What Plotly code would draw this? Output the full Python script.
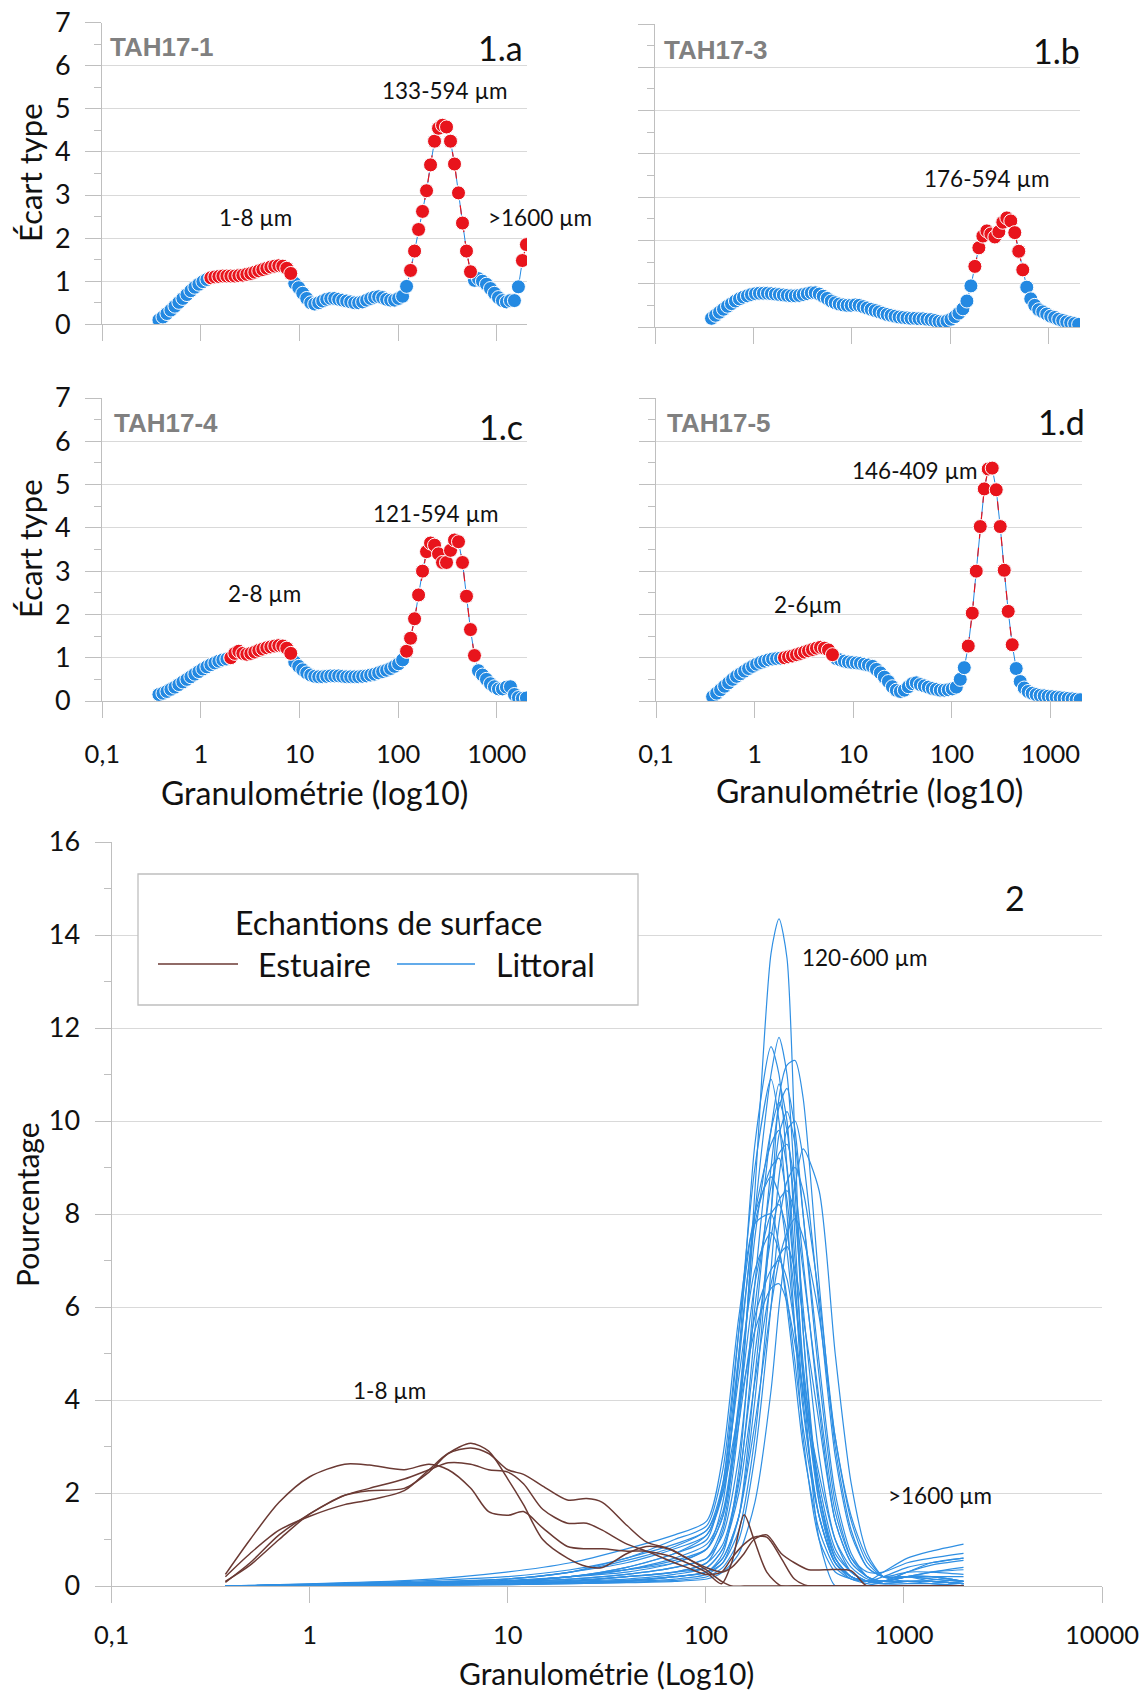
import plotly.graph_objects as go

W, H = 1144, 1693

# channel sizes of the laser granulometer (µm)
sizes = [0.375, 0.412, 0.452, 0.496, 0.545, 0.598, 0.656, 0.721, 0.791, 0.868,
         0.953, 1.047, 1.149, 1.261, 1.385, 1.520, 1.669, 1.832, 2.010, 2.207,
         2.423, 2.660, 2.920, 3.205, 3.519, 3.863, 4.240, 4.655, 5.110, 5.610,
         6.158, 6.760, 7.421, 8.147, 8.943, 9.817, 10.78, 11.83, 12.99, 14.26,
         15.65, 17.18, 18.86, 20.71, 22.73, 24.95, 27.39, 30.07, 33.01, 36.24,
         39.78, 43.67, 47.94, 52.62, 57.77, 63.41, 69.61, 76.42, 83.89, 92.09,
         101.1, 111.0, 121.8, 133.7, 146.8, 161.2, 176.8, 194.2, 213.2, 234.0,
         256.8, 282.0, 309.6, 339.8, 373.1, 409.6, 449.6, 493.6, 541.9, 594.8,
         653.0, 716.8, 786.9, 863.9, 948.3, 1041, 1143, 1255, 1377, 1512,
         1660, 1822, 2000]

# standard deviation per channel
tah17_1 = [0.1, 0.17, 0.25, 0.33, 0.42, 0.51, 0.6, 0.69, 0.78, 0.86, 0.93, 0.99, 1.04,
           1.08, 1.1, 1.11, 1.12, 1.12, 1.12, 1.12, 1.13, 1.14, 1.16, 1.18, 1.21, 1.24,
           1.27, 1.3, 1.33, 1.35, 1.36, 1.35, 1.3, 1.18,
           0.95, 0.85, 0.72, 0.6, 0.5, 0.47, 0.5, 0.54, 0.58, 0.6, 0.6, 0.58, 0.56, 0.54,
           0.52, 0.5, 0.5, 0.52, 0.56, 0.6, 0.63, 0.64, 0.62, 0.58, 0.56, 0.56, 0.6, 0.65, 0.88,
           1.25, 1.7, 2.2, 2.62, 3.1, 3.7, 4.25, 4.55, 4.62, 4.58, 4.25, 3.72, 3.05, 2.35, 1.7, 1.22,
           1.02, 1.06, 1.0, 0.93, 0.83, 0.72, 0.62, 0.55, 0.52, 0.55, 0.55, 0.87, 1.48, 1.85]
tah17_3 = [0.2, 0.27, 0.34, 0.41, 0.48, 0.54, 0.6, 0.65, 0.69, 0.72,
           0.75, 0.77, 0.78, 0.78, 0.78, 0.77, 0.76, 0.75, 0.74, 0.73,
           0.72, 0.72, 0.73, 0.75, 0.77, 0.79, 0.79, 0.76, 0.71, 0.66,
           0.6, 0.56, 0.53, 0.51, 0.5, 0.5, 0.51, 0.5, 0.47, 0.44,
           0.41, 0.38, 0.35, 0.32, 0.29, 0.27, 0.25, 0.23, 0.22, 0.21,
           0.2, 0.2, 0.19, 0.19, 0.18, 0.17, 0.15, 0.13, 0.12, 0.14,
           0.18, 0.24, 0.32, 0.42, 0.6, 0.95,
           1.4, 1.83, 2.1, 2.22, 2.15, 2.08, 2.2, 2.42, 2.52, 2.45, 2.18, 1.75, 1.32,
           0.92, 0.65, 0.5, 0.4, 0.35, 0.3, 0.25, 0.22, 0.18, 0.15, 0.12, 0.1, 0.08, 0.06]
tah17_4 = [0.15, 0.18, 0.22, 0.27, 0.32, 0.38, 0.44, 0.5, 0.56, 0.62, 0.68, 0.74, 0.79, 0.84,
           0.88, 0.92, 0.95, 0.97,
           1.0, 1.1, 1.15, 1.1, 1.08, 1.1, 1.13, 1.17, 1.2, 1.23, 1.25, 1.27, 1.28, 1.27, 1.22, 1.1,
           0.9, 0.8, 0.72, 0.65, 0.6, 0.57, 0.56, 0.56, 0.57, 0.58, 0.58, 0.58, 0.57, 0.56,
           0.56, 0.56, 0.56, 0.57, 0.58, 0.6, 0.62, 0.65, 0.68, 0.71, 0.75, 0.8, 0.86, 0.95,
           1.15, 1.45, 1.9, 2.45, 3.0, 3.45, 3.65, 3.6, 3.4, 3.2, 3.2, 3.48, 3.72, 3.68, 3.2,
           2.42, 1.65, 1.05,
           0.7, 0.6, 0.5, 0.4, 0.33, 0.28, 0.28, 0.32, 0.33, 0.15, 0.08, 0.06, 0.07]
tah17_5 = [0.1, 0.18, 0.26, 0.34, 0.42, 0.5, 0.57, 0.63, 0.69, 0.75, 0.8, 0.85, 0.89, 0.92,
           0.95, 0.97, 0.98, 0.99,
           1.0, 1.02, 1.04, 1.07, 1.1, 1.13, 1.16, 1.19, 1.22, 1.24, 1.22, 1.18, 1.07,
           0.98, 0.95, 0.92, 0.9, 0.89, 0.88, 0.87, 0.85, 0.83, 0.8, 0.73, 0.65, 0.55, 0.45,
           0.33, 0.25, 0.22, 0.25, 0.33, 0.4, 0.42, 0.38, 0.35, 0.32, 0.29, 0.27, 0.25, 0.25,
           0.26, 0.28, 0.32, 0.5, 0.77,
           1.27, 2.03, 3.0, 4.03, 4.9, 5.36, 5.38, 4.88, 4.03, 3.02, 2.07, 1.3,
           0.75, 0.45, 0.3, 0.22, 0.18, 0.15, 0.13, 0.12, 0.11, 0.1, 0.09, 0.08, 0.07, 0.06,
           0.05, 0.04, 0.03]

# channel index ranges drawn in red
red_1 = [(13, 33), (63, 78), (91, 92)]
red_3 = [(66, 78)]
red_4 = [(18, 33), (62, 79)]
red_5 = [(18, 30), (64, 75)]

# surface samples (percentage)
est_x = [0.375, 0.5, 0.7, 1, 1.5, 2, 3, 4, 5, 6.5, 8, 10, 12, 15, 20, 25, 30, 40, 50, 65,
         80, 100, 120, 135, 156, 175, 203, 240, 280, 330, 400, 540, 650, 1000, 1999]
estuaire = [
    [0.25, 1.0, 1.8, 2.35, 2.62, 2.6, 2.5, 2.62, 2.5, 2.1, 1.6, 1.52, 1.6, 1.25, 0.85, 0.8, 0.8,
     0.75, 0.75, 0.65, 0.5, 0.3, 0.05, 0.5, 1.53, 1.0, 0.3, 0, 0, 0, 0, 0, 0, 0, 0],
    [0.1, 0.45, 1.0, 1.55, 1.95, 2.05, 2.1, 2.45, 2.85, 3.07, 2.9, 2.3, 1.75, 1.0, 0.6, 0.42, 0.4,
     0.7, 0.85, 0.8, 0.6, 0.4, 0.3, 0.4, 0.7, 1.0, 1.1, 0.7, 0.5, 0.35, 0.35, 0.33, 0, 0, 0],
    [0.2, 0.7, 1.2, 1.5, 1.75, 1.85, 2.05, 2.5, 2.85, 2.97, 2.85, 2.5, 2.4, 2.15, 1.85, 1.88, 1.8,
     1.3, 0.95, 0.8, 0.6, 0.35, 0.1, 0, 0, 0, 0, 0, 0, 0, 0, 0, 0, 0, 0],
    [0.08, 0.5, 1.1, 1.55, 1.95, 2.1, 2.3, 2.5, 2.65, 2.62, 2.5, 2.45, 2.2, 1.65, 1.35, 1.35, 1.2,
     0.9, 0.75, 0.55, 0.4, 0.25, 0.3, 0.6, 0.9, 1.05, 1.05, 0.6, 0.15, 0, 0, 0, 0, 0, 0],
]
lit_x = [0.375, 1.047, 3.205, 9.817, 20.71, 39.78, 69.61, 101.1, 121.8, 146.8, 176.8, 213.2,
         234.0, 256.8, 282.0, 309.6, 373.1, 449.6, 541.9, 653.0, 786.9, 1041, 1377, 1999]
littoral = [
    [0, 0.02, 0.04, 0.08, 0.12, 0.2, 0.3, 0.5, 1.2, 3.5, 8.5, 13.6, 14.35, 13.5, 9.5, 5.5, 1.8, 0.5, 0.15, 0.05, 0, 0, 0, 0],
    [0, 0.02, 0.05, 0.1, 0.15, 0.25, 0.4, 0.6, 1.3, 3.8, 8.0, 11.0, 11.8, 11.0, 8.5, 5.5, 2.0, 0.6, 0.2, 0.1, 0.05, 0.1, 0.1, 0.05],
    [0, 0.03, 0.06, 0.12, 0.2, 0.35, 0.5, 0.8, 1.8, 5.0, 9.5, 11.6, 11.0, 9.0, 6.5, 4.0, 1.5, 0.5, 0.2, 0.1, 0.1, 0.2, 0.15, 0.1],
    [0, 0.01, 0.03, 0.05, 0.08, 0.12, 0.2, 0.3, 0.6, 1.5, 4.0, 8.0, 10.5, 11.2, 11.3, 10.5, 6.5, 3.0, 1.2, 0.4, 0.2, 0.2, 0.15, 0.1],
    [0, 0.02, 0.05, 0.1, 0.2, 0.4, 0.7, 1.0, 2.2, 5.5, 9.0, 10.9, 10.0, 8.0, 5.5, 3.2, 1.0, 0.3, 0.15, 0.1, 0.2, 0.4, 0.5, 0.6],
    [0, 0.01, 0.03, 0.06, 0.1, 0.2, 0.3, 0.4, 0.8, 2.2, 5.5, 9.0, 10.3, 10.7, 9.8, 8.0, 4.5, 1.8, 0.6, 0.2, 0.1, 0.1, 0.1, 0.05],
    [0, 0.02, 0.05, 0.1, 0.2, 0.35, 0.6, 0.9, 1.6, 4.0, 7.5, 9.8, 10.4, 9.8, 8.0, 6.0, 2.8, 1.0, 0.3, 0.1, 0.1, 0.2, 0.2, 0.1],
    [0, 0.01, 0.02, 0.04, 0.06, 0.1, 0.15, 0.25, 0.5, 1.5, 4.5, 8.0, 9.7, 10.2, 9.5, 8.0, 4.8, 2.0, 0.7, 0.2, 0.05, 0.05, 0.05, 0],
    [0, 0.01, 0.02, 0.04, 0.06, 0.1, 0.2, 0.3, 0.5, 1.2, 3.2, 6.8, 8.8, 9.8, 10.0, 9.2, 6.0, 2.8, 1.1, 0.4, 0.2, 0.3, 0.3, 0.25],
    [0, 0.02, 0.05, 0.1, 0.2, 0.4, 0.7, 1.1, 2.0, 4.8, 8.0, 9.5, 9.8, 9.0, 7.0, 4.8, 2.0, 0.6, 0.2, 0.1, 0.1, 0.3, 0.5, 0.6],
    [0, 0.02, 0.04, 0.08, 0.15, 0.25, 0.4, 0.6, 1.1, 2.8, 6.0, 8.6, 9.3, 9.5, 8.6, 7.0, 3.8, 1.4, 0.5, 0.2, 0.1, 0.2, 0.2, 0.1],
    [0, 0.03, 0.07, 0.15, 0.3, 0.6, 0.9, 1.2, 2.2, 5.0, 7.8, 9.0, 9.2, 8.3, 6.5, 4.5, 1.8, 0.6, 0.2, 0.1, 0.1, 0.1, 0.1, 0.05],
    [0, 0.01, 0.02, 0.03, 0.05, 0.08, 0.12, 0.2, 0.4, 1.0, 2.8, 6.0, 7.8, 8.7, 9.0, 8.5, 6.2, 3.2, 1.4, 0.5, 0.2, 0.2, 0.1, 0.05],
    [0, 0.04, 0.1, 0.2, 0.35, 0.6, 1.0, 1.3, 2.5, 5.5, 8.0, 8.8, 8.4, 7.2, 5.5, 3.8, 1.5, 0.5, 0.2, 0.1, 0.3, 0.6, 0.75, 0.9],
    [0, 0.01, 0.03, 0.06, 0.1, 0.2, 0.3, 0.5, 0.9, 2.3, 5.0, 7.5, 8.3, 8.5, 8.0, 6.8, 4.0, 1.6, 0.6, 0.3, 0.3, 0.5, 0.6, 0.7],
    [0, 0.02, 0.05, 0.1, 0.2, 0.35, 0.55, 0.8, 1.5, 3.8, 6.5, 8.0, 8.2, 7.6, 6.2, 4.6, 2.2, 0.8, 0.3, 0.1, 0.1, 0.2, 0.3, 0.4],
    [0, 0.01, 0.02, 0.04, 0.07, 0.12, 0.2, 0.3, 0.6, 1.5, 3.5, 6.0, 7.0, 7.6, 7.9, 7.5, 5.8, 3.2, 1.5, 0.6, 0.2, 0.2, 0.2, 0.1],
    [0, 0.03, 0.08, 0.15, 0.3, 0.5, 0.8, 1.1, 2.1, 4.5, 6.8, 7.6, 7.2, 6.2, 4.8, 3.4, 1.5, 0.5, 0.2, 0.1, 0.1, 0.2, 0.2, 0.2],
    [0, 0.01, 0.03, 0.05, 0.1, 0.15, 0.25, 0.4, 0.8, 2.0, 4.4, 6.5, 7.1, 7.3, 6.8, 5.8, 3.5, 1.4, 0.5, 0.2, 0.1, 0.1, 0.05, 0],
    [0, 0.02, 0.05, 0.1, 0.2, 0.3, 0.5, 0.8, 1.5, 3.5, 5.8, 6.8, 7.0, 6.6, 5.5, 4.2, 2.0, 0.7, 0.3, 0.1, 0.05, 0.1, 0.1, 0.05],
    [0, 0.01, 0.02, 0.03, 0.05, 0.07, 0.1, 0.15, 0.3, 0.7, 1.8, 4.2, 6.0, 7.5, 8.6, 9.4, 8.5, 5.0, 2.2, 0.7, 0.2, 0.1, 0.1, 0.05],
    [0, 0.01, 0.02, 0.04, 0.06, 0.1, 0.2, 0.3, 0.7, 2.5, 6.5, 9.8, 10.8, 10.0, 7.5, 4.5, 1.0, 0, 0, 0, 0, 0, 0, 0],
    [0, 0.05, 0.12, 0.3, 0.5, 0.8, 1.1, 1.4, 2.8, 5.8, 7.8, 8.0, 7.3, 6.0, 4.5, 3.0, 1.2, 0.4, 0.15, 0.1, 0.1, 0.2, 0.3, 0.35],
    [0, 0.03, 0.08, 0.15, 0.3, 0.55, 0.85, 1.2, 2.0, 3.8, 5.5, 6.4, 6.5, 6.1, 5.2, 4.2, 2.4, 1.0, 0.4, 0.15, 0.1, 0.3, 0.45, 0.55],
]

BLUE = '#2389E2'
RED = '#E8141C'
BROWN = '#6B3A34'
LINEBLUE = '#2F8FE3'
GRID = '#D9D9D9'
AXIS = '#BFBFBF'
FONT = 'Lato'
INK = '#111111'


def px(x):
    return x / W


def py(y):
    return 1 - y / H


fig = go.Figure()

# panel: series, red ranges, axes suffix, x px span, y px span, x range max, y labels, x labels
panels = [
    (tah17_1, red_1, '', (102.3, 527), (22.7, 324.3), 3.307, True, False),
    (tah17_3, red_3, '2', (655, 1080), (24, 327), 3.315, False, False),
    (tah17_4, red_4, '3', (102.3, 527), (398, 701), 3.307, True, True),
    (tah17_5, red_5, '4', (656, 1082), (398, 701), 3.32, False, True),
]

layout_axes = {}
for vals, reds, s, xs, ys, xmax, ylab, xlab in panels:
    fig.add_trace(go.Scatter(
        x=sizes, y=vals, mode='lines+markers', xaxis='x' + s, yaxis='y' + s,
        line=dict(color=BLUE, width=1),
        marker=dict(size=14, color=BLUE, line=dict(color='white', width=1)),
        showlegend=False, hoverinfo='x+y'))
    rx, ry = [], []
    for a, b in reds:
        rx += sizes[a:b + 1] + [None]
        ry += vals[a:b + 1] + [None]
    fig.add_trace(go.Scatter(
        x=rx, y=ry, mode='lines+markers', xaxis='x' + s, yaxis='y' + s,
        line=dict(color=RED, width=1.2, dash='dash'),
        marker=dict(size=14, color=RED, line=dict(color='white', width=1)),
        showlegend=False, hoverinfo='x+y'))
    layout_axes['xaxis' + s] = dict(
        domain=[px(xs[0]), px(xs[1])], anchor='y' + s, type='log', range=[-1, xmax],
        showgrid=False, showline=True, linecolor=AXIS, linewidth=1.3,
        ticks='outside', ticklen=16, tickcolor=AXIS, tickwidth=1.3,
        tickvals=[0.1, 1, 10, 100, 1000], ticktext=['0,1', '1', '10', '100', '1000'],
        showticklabels=xlab, tickfont=dict(size=25.5, color=INK, family=FONT),
        ticklabelstandoff=14, zeroline=False, fixedrange=True, automargin=False)
    layout_axes['yaxis' + s] = dict(
        domain=[py(ys[1]), py(ys[0])], anchor='x' + s, range=[0, 7], dtick=1,
        showgrid=True, gridcolor=GRID, gridwidth=1.3, showline=True, linecolor=AXIS,
        linewidth=1.3, ticks='outside', ticklen=16, tickcolor=AXIS, tickwidth=1.3,
        minor=dict(ticks='outside', ticklen=7, tickcolor=AXIS, dtick=0.5, showgrid=False),
        showticklabels=ylab, tickfont=dict(size=27, color=INK, family=FONT),
        ticklabelstandoff=9, zeroline=False, fixedrange=True, automargin=False)

# bottom panel
for ys in littoral:
    fig.add_trace(go.Scatter(
        x=lit_x, y=ys, mode='lines', xaxis='x5', yaxis='y5',
        line=dict(color=LINEBLUE, width=1.2, shape='spline', smoothing=0.7),
        showlegend=False, hoverinfo='x+y'))
for ys in estuaire:
    fig.add_trace(go.Scatter(
        x=est_x, y=ys, mode='lines', xaxis='x5', yaxis='y5',
        line=dict(color=BROWN, width=1.5, shape='spline', smoothing=0.8),
        showlegend=False, hoverinfo='x+y'))

layout_axes['xaxis5'] = dict(
    domain=[px(111.7), px(1102)], anchor='y5', type='log', range=[-1, 4],
    showgrid=False, showline=True, linecolor=AXIS, linewidth=1.3,
    ticks='outside', ticklen=16, tickcolor=AXIS, tickwidth=1.3,
    tickvals=[0.1, 1, 10, 100, 1000, 10000],
    ticktext=['0,1', '1', '10', '100', '1000', '10000'],
    tickfont=dict(size=25.5, color=INK, family=FONT), ticklabelstandoff=10,
    zeroline=False, fixedrange=True, automargin=False)
layout_axes['yaxis5'] = dict(
    domain=[py(1586), py(842)], anchor='x5', range=[0, 16], dtick=2,
    showgrid=True, gridcolor=GRID, gridwidth=1.3, showline=True, linecolor=AXIS,
    linewidth=1.3, ticks='outside', ticklen=16, tickcolor=AXIS, tickwidth=1.3,
    minor=dict(ticks='outside', ticklen=7, tickcolor=AXIS, dtick=1, showgrid=False),
    tickfont=dict(size=27, color=INK, family=FONT), ticklabelstandoff=9,
    zeroline=False, fixedrange=True, automargin=False)

annotations = []


def txt(s, x, y, size=22.5, xanchor='center', color=INK, family=FONT, angle=0):
    annotations.append(dict(
        text=s, x=px(x), y=py(y), xref='paper', yref='paper', xanchor=xanchor,
        yanchor='middle', showarrow=False, textangle=angle,
        font=dict(size=size, color=color, family=family)))


# axis titles
txt('Écart type', 30, 173, size=31, angle=-90)
txt('Écart type', 30, 549, size=31, angle=-90)
txt('Granulométrie (log10)', 314, 792, size=32)
txt('Granulométrie (log10)', 869, 790, size=32)
txt('Pourcentage', 27, 1205, size=30, angle=-90)
txt('Granulométrie (Log10)', 606, 1673, size=30)

# sample tags
for name, x, y in [('TAH17-1', 108, 47), ('TAH17-3', 662, 50),
                   ('TAH17-4', 112, 423), ('TAH17-5', 665, 423)]:
    txt('<b>' + name + '</b>', x, y, size=26, xanchor='left', color='#808080',
        family='Liberation Sans')
for name, x, y in [('1.a', 525, 47), ('1.b', 1082, 50), ('1.c', 525, 427), ('1.d', 1087, 422)]:
    txt(name, x, y, size=34, xanchor='right')
txt('2', 1015, 897, size=34)

# size-class labels
txt('133-594 µm', 445, 90)
txt('1-8 µm', 255, 218)
txt('>1600 µm', 540, 218)
txt('176-594 µm', 987, 178)
txt('121-594 µm', 436, 513)
txt('2-8 µm', 264, 593)
txt('146-409 µm', 915, 470)
txt('2-6µm', 808, 605)
txt('120-600 µm', 865, 957)
txt('1-8 µm', 390, 1390)
txt('>1600 µm', 940, 1495)

# legend of the bottom panel
shapes = [
    dict(type='rect', xref='paper', yref='paper', x0=px(138), x1=px(638), y0=py(1005), y1=py(874),
         line=dict(color=AXIS, width=1.3), fillcolor='white', layer='above'),
    dict(type='line', xref='paper', yref='paper', x0=px(158), x1=px(238), y0=py(964), y1=py(964),
         line=dict(color=BROWN, width=1.5), layer='above'),
    dict(type='line', xref='paper', yref='paper', x0=px(397), x1=px(475), y0=py(964), y1=py(964),
         line=dict(color=LINEBLUE, width=1.5), layer='above'),
]
txt('Echantions de surface', 388, 922, size=32)
txt('Estuaire', 256, 964, size=32, xanchor='left')
txt('Littoral', 494, 964, size=32, xanchor='left')

fig.update_layout(
    width=W, height=H, autosize=False,
    margin=dict(l=0, r=0, t=0, b=0),
    paper_bgcolor='white', plot_bgcolor='white',
    font=dict(family=FONT, color=INK),
    annotations=annotations, shapes=shapes, showlegend=False,
    **layout_axes)

# the page body default margin would shift the figure by 8 px
fig.write_html('out.html', config={'displayModeBar': False},
               post_script="document.body.style.margin='0';document.body.style.overflow='hidden';")
